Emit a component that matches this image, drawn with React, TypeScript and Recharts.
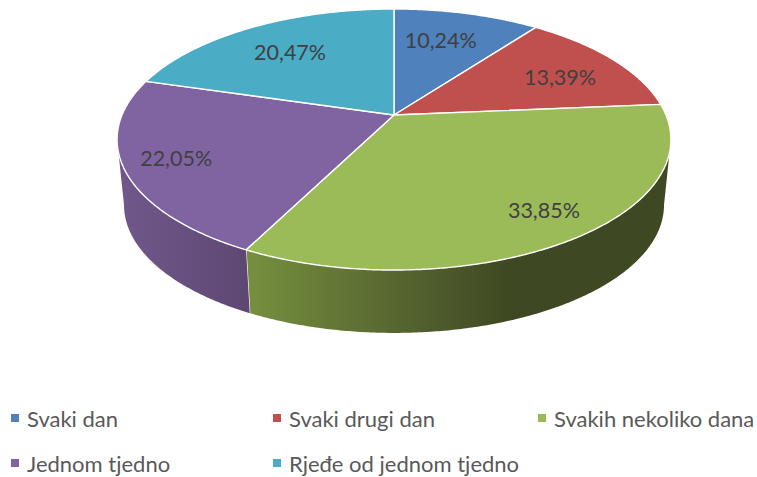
import { PieChart, Pie, Legend } from 'recharts';

const names = ['Svaki dan', 'Svaki drugi dan', 'Svakih nekoliko dana', 'Jednom tjedno', 'Rjeđe od jednom tjedno'];
const shares = [10.24, 13.39, 33.85, 22.05, 20.47];
const colours = ['#4f81bd', '#c0504d', '#9bbb59', '#8064a2', '#4bacc6'];

const tableData = names.map((name, i) => ({ name, value: shares[i], fill: colours[i] }));

// perspective of the tilted disc
const TILT = 0.1877;
const SQUASH = 0.463;
// the rim's lower edge is a slightly smaller disc pushed down
const RIM_SCALE_X = 0.975;
const RIM_SCALE_Y = 0.98;
const RIM_DROP = 66;
// where the rim turns away from the viewer, degrees clockwise from 12 o'clock
const RIM_FROM = 100.8;
const RIM_TO = 259.2;
// small label corrections, the original placed them by hand
const labelNudge = [[-7, 0], [3, 4], [9, -2], [-10, 1], [1, 2]];

const rad = (d: number) => (d * Math.PI) / 180;

const project = (R: number, clock: number, r = 1) => {
    const s = Math.sin(rad(clock)) * r;
    const t = Math.cos(rad(clock)) * r;
    const d = 1 + TILT * t;
    return { x: (R * s) / d, y: (-R * SQUASH * t) / d };
};

const topPoint = (cx: number, cy: number, R: number, clock: number, r = 1) => {
    const p = project(R, clock, r);
    return [cx + p.x, cy + p.y];
};

const lowPoint = (cx: number, cy: number, R: number, clock: number) => {
    const p = project(R, clock);
    return [cx + p.x * RIM_SCALE_X, cy + p.y * RIM_SCALE_Y + RIM_DROP];
};

const arc = (from: number, to: number, fn: (c: number) => number[]) => {
    const pts: number[][] = [];
    const steps = Math.max(2, Math.ceil(Math.abs(to - from) * 2));
    for (let i = 0; i <= steps; i++) {
        pts.push(fn(from + ((to - from) * i) / steps));
    }
    return pts;
};

const toPath = (pts: number[][]) => 'M' + pts.map((p) => `${p[0].toFixed(2)},${p[1].toFixed(2)}`).join('L') + 'Z';

const wallFill: Record<string, string> = {
    '#9bbb59': 'url(#wallGreen)',
    '#8064a2': 'url(#wallPurple)',
};

const Slice = (props: any) => {
    const { cx, cy, outerRadius, startAngle, endAngle, fill } = props;
    const from = 90 - startAngle;
    const to = 90 - endAngle;
    const a = Math.max(from, RIM_FROM);
    const b = Math.min(to, RIM_TO);
    const top = arc(from, to, (c) => topPoint(cx, cy, outerRadius, c));
    return (
        <g>
            {b > a && (
                <path
                    d={toPath([
                        ...arc(a, b, (c) => topPoint(cx, cy, outerRadius, c)),
                        ...arc(b, a, (c) => lowPoint(cx, cy, outerRadius, c)),
                    ])}
                    fill={wallFill[fill] || fill}
                />
            )}
            {to > RIM_FROM && to < RIM_TO && (
                <path
                    d={`M${topPoint(cx, cy, outerRadius, to).join(',')}L${lowPoint(cx, cy, outerRadius, to).join(',')}`}
                    stroke="#fff"
                    strokeWidth={1.2}
                />
            )}
            <path d={toPath([[cx, cy], ...top])} fill={fill} stroke="#fff" strokeWidth={1.4} strokeLinejoin="round" />
        </g>
    );
};

const renderLabel = (props: any) => {
    const { cx, cy, outerRadius, midAngle, value, index } = props;
    const clock = 90 - midAngle;
    const depth = 0.76 - 0.06 * Math.cos(rad(clock));
    const [x, y] = topPoint(cx, cy, outerRadius, clock, depth);
    const [dx, dy] = labelNudge[index] || [0, 0];
    return (
        <text x={x + dx} y={y + dy} textAnchor="middle" dominantBaseline="central" fill="#404040" fontSize={21.5} fontFamily="Lato">
            {value.toFixed(2).replace('.', ',') + '%'}
        </text>
    );
};

const renderLegend = (props: any) => {
    const items = props.payload || [];
    return (
        <div style={{ position: 'relative', width: 757, height: 72 }}>
            {items.map((item: any, i: number) => (
                <div
                    key={item.value}
                    style={{
                        position: 'absolute',
                        left: [11, 273, 538][i % 3],
                        top: i < 3 ? 0 : 45,
                        display: 'flex',
                        alignItems: 'center',
                        height: 28,
                        whiteSpace: 'nowrap',
                        fontFamily: 'Lato',
                        fontSize: 22,
                        color: '#595959',
                    }}
                >
                    <span style={{ width: 8, height: 8, marginRight: 8, background: item.color, display: 'inline-block' }} />
                    {item.value}
                </div>
            ))}
        </div>
    );
};

export default function App() {
    return (
        <div style={{ position: 'absolute', left: 0, top: 0 }}>
            <PieChart width={757} height={477} margin={{ top: 0, right: 0, bottom: 0, left: 0 }}>
                <defs>
                    <linearGradient id="wallGreen" gradientUnits="userSpaceOnUse" x1={246} y1={0} x2={510} y2={0}>
                        <stop offset="0" stopColor="#76903f" />
                        <stop offset="0.6" stopColor="#55642f" />
                        <stop offset="1" stopColor="#3e4822" />
                    </linearGradient>
                    <linearGradient id="wallPurple" gradientUnits="userSpaceOnUse" x1={118} y1={0} x2={246} y2={0}>
                        <stop offset="0" stopColor="#71588c" />
                        <stop offset="1" stopColor="#5e4873" />
                    </linearGradient>
                </defs>
                <Pie
                    data={tableData}
                    dataKey="value"
                    nameKey="name"
                    cx={394}
                    cy={115}
                    outerRadius={272}
                    startAngle={90}
                    endAngle={-270}
                    stroke="#fff"
                    shape={Slice}
                    label={renderLabel}
                    labelLine={false}
                    isAnimationActive={false}
                />
                <Legend
                    content={renderLegend}
                    layout="horizontal"
                    verticalAlign="bottom"
                    itemSorter={null}
                    wrapperStyle={{ top: 404, left: 0, bottom: 'auto', width: 757 }}
                />
            </PieChart>
        </div>
    );
}
